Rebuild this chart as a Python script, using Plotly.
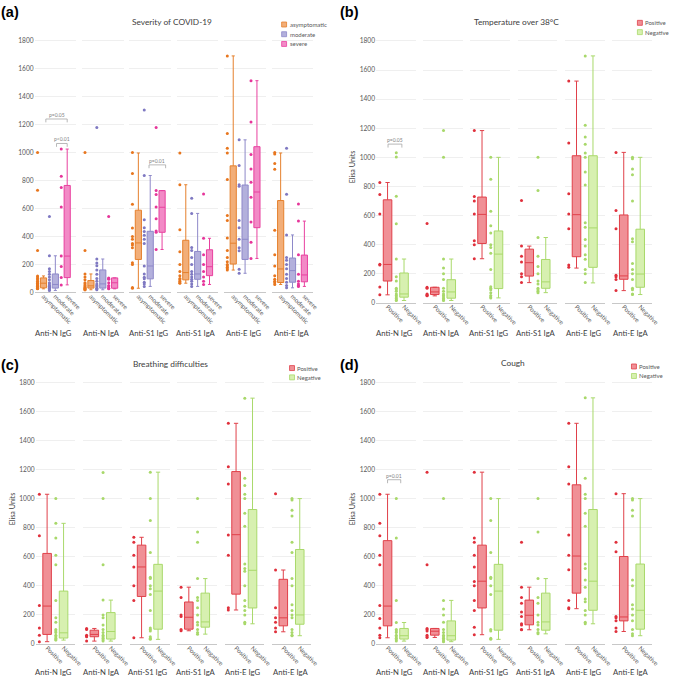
import plotly.graph_objects as go

W, H = 680, 682

antibodies = ["Anti-N IgG", "Anti-N IgA", "Anti-S1 IgG", "Anti-S1 IgA", "Anti-E IgG", "Anti-E IgA"]
severity_levels = ["asymptomatic", "moderate", "severe"]
symptom_levels = ["Positive", "Negative"]

# ---------------- (a) Severity of COVID-19 : [antibody][asymptomatic, moderate, severe]
sev_low = [[26, 14, 54], [19, 19, 26], [30, 43, 307], [66, 43, 57], [160, 137, 243], [57, 33, 43]]
sev_q1 = [[33, 31, 106], [31, 31, 30], [236, 97, 430], [90, 94, 120], [203, 236, 463], [71, 73, 76]]
sev_med = [[66, 57, 260], [47, 61, 69], [354, 189, 609], [142, 132, 184], [352, 380, 718], [168, 156, 125]]
sev_q3 = [[104, 132, 765], [85, 161, 104], [588, 437, 728], [373, 293, 305], [905, 768, 1042], [657, 246, 267]]
sev_high = [[118, 262, 1025], [132, 239, 104], [997, 836, 728], [770, 565, 387], [1691, 1091, 1514], [997, 411, 510]]
sev_points = [
    [[1000, 730, 300, 118, 110, 100, 90, 80, 70, 65, 60, 55, 50, 45, 40, 35, 30, 28, 26],
     [543, 262, 170, 150, 130, 110, 90, 70, 60, 50, 45, 40, 35, 30, 25, 20, 14],
     [1025, 830, 750, 610, 260, 185, 106, 54]],
    [[1000, 300, 132, 110, 90, 70, 60, 50, 40, 35, 30, 25, 20, 19],
     [1180, 239, 210, 190, 160, 130, 100, 80, 60, 50, 40, 30, 25, 19],
     [543, 104, 100, 95, 70, 50, 40, 30, 26]],
    [[1000, 850, 630, 460, 400, 380, 350, 340, 320, 213, 200, 35, 30],
     [1304, 836, 520, 463, 435, 409, 380, 350, 189, 132, 109, 97, 73, 61, 43],
     [1180, 728, 700, 610, 527, 440, 430, 307]],
    [[997, 770, 449, 290, 200, 150, 120, 100, 90, 80, 70, 66],
     [673, 565, 321, 300, 250, 200, 150, 130, 110, 94, 80, 60, 43],
     [704, 387, 270, 200, 150, 110, 80, 57]],
    [[1691, 1136, 1030, 997, 808, 550, 515, 390, 300, 250, 220, 200, 190, 180, 170, 160],
     [1091, 907, 770, 760, 515, 463, 380, 320, 298, 165, 137],
     [1514, 1219, 987, 883, 787, 680, 503, 359, 243]],
    [[1000, 990, 921, 881, 444, 269, 189, 120, 95, 80, 70, 57],
     [1030, 702, 411, 250, 230, 200, 170, 130, 100, 73, 50, 33],
     [633, 510, 270, 130, 80, 60, 50, 43]],
]

# ---------------- (b) Temperature over 38°C : [antibody][Positive, Negative]
temp_low = [[55, 16], [48, 16], [303, 34], [139, 70], [239, 137], [84, 57]]
temp_q1 = [[150, 39], [57, 32], [408, 98], [184, 100], [317, 244], [162, 107]]
temp_med = [[264, 61], [75, 75], [608, 335], [276, 144], [606, 515], [185, 198]]
temp_q3 = [[708, 205], [107, 159], [727, 494], [369, 298], [1011, 1011], [604, 506]]
temp_high = [[827, 301], [107, 301], [1184, 1000], [390, 449], [1524, 1697], [1034, 1000]]
temp_points = [
    [[827, 745, 610, 265, 260, 109, 55],
     [1032, 1002, 733, 544, 301, 180, 150, 100, 90, 80, 60, 50, 40, 30, 20, 16]],
    [[545, 107, 100, 60, 55, 50, 48],
     [1184, 1000, 301, 240, 200, 160, 100, 80, 60, 50, 40, 30, 20, 16]],
    [[1184, 730, 700, 610, 426, 400, 303],
     [1000, 850, 630, 530, 480, 400, 380, 340, 230, 110, 100, 90, 70, 50, 40, 34]],
    [[704, 390, 320, 280, 200, 180, 139],
     [1000, 772, 449, 320, 250, 200, 150, 130, 100, 90, 80, 70]],
    [[1524, 1098, 750, 610, 510, 260, 245],
     [1697, 1220, 1140, 1090, 1030, 1000, 900, 810, 550, 520, 435, 390, 330, 300, 230, 200, 140]],
    [[1034, 635, 510, 190, 180, 160, 84],
     [1000, 990, 920, 880, 700, 440, 420, 270, 230, 200, 160, 100, 90, 60, 57]],
]

# ---------------- (c) Breathing difficulties
breath_low = [[16, 27], [20, 20], [43, 32], [91, 68], [234, 139], [84, 57]]
breath_q1 = [[66, 41], [50, 34], [327, 102], [102, 116], [343, 248], [125, 136]]
breath_med = [[261, 77], [66, 86], [530, 364], [184, 152], [752, 507], [180, 200]]
breath_q3 = [[623, 364], [95, 216], [680, 548], [289, 350], [1186, 925], [445, 650]]
breath_high = [[1030, 830], [107, 302], [734, 1182], [391, 450], [1518, 1691], [509, 1000]]
breath_points = [
    [[1030, 745, 265, 110, 60, 16],
     [1000, 830, 730, 610, 545, 300, 180, 150, 100, 90, 80, 60, 50, 40, 30, 27]],
    [[107, 100, 60, 55, 50, 20],
     [1180, 1000, 545, 302, 200, 180, 130, 100, 80, 60, 50, 40, 30, 20]],
    [[734, 700, 610, 530, 400, 300, 43],
     [1182, 1000, 850, 630, 460, 450, 400, 380, 340, 230, 110, 100, 90, 50, 40, 32]],
    [[391, 320, 200, 190, 100, 91],
     [1000, 770, 700, 450, 320, 300, 250, 200, 150, 130, 100, 80, 68]],
    [[1518, 1220, 1100, 750, 610, 250, 234],
     [1691, 1140, 1090, 1030, 1000, 900, 810, 550, 520, 500, 400, 300, 260, 230, 200, 150, 139]],
    [[1034, 509, 250, 180, 150, 110, 84],
     [1000, 990, 920, 880, 700, 630, 450, 400, 270, 230, 200, 180, 100, 80, 60, 57]],
]

# ---------------- (d) Cough
cough_low = [[43, 20], [45, 16], [64, 32], [98, 70], [243, 139], [86, 57]]
cough_q1 = [[125, 34], [61, 27], [248, 95], [132, 95], [350, 232], [159, 102]]
cough_med = [[261, 57], [88, 57], [432, 364], [198, 152], [605, 432], [186, 232]]
cough_q3 = [[711, 107], [107, 159], [680, 548], [302, 350], [1095, 925], [602, 550]]
cough_high = [[1030, 148], [107, 300], [1182, 1000], [391, 450], [1518, 1693], [1034, 1000]]
cough_points = [
    [[1030, 830, 745, 610, 545, 265, 175, 110, 60, 43],
     [1000, 730, 300, 148, 100, 90, 80, 60, 50, 40, 30, 20]],
    [[1182, 545, 107, 100, 90, 60, 50, 45],
     [1000, 300, 240, 200, 150, 100, 80, 60, 50, 40, 30, 20, 16]],
    [[1182, 730, 700, 610, 530, 430, 400, 300, 230, 115, 64],
     [1000, 850, 630, 460, 450, 400, 340, 100, 90, 40, 32]],
    [[700, 391, 320, 280, 220, 190, 140, 130, 100, 98],
     [1000, 770, 450, 320, 280, 200, 150, 130, 100, 80, 70]],
    [[1518, 1220, 1100, 750, 610, 510, 300, 250, 243],
     [1693, 1140, 1030, 1000, 900, 810, 550, 520, 440, 390, 310, 290, 230, 200, 150, 139]],
    [[1034, 700, 635, 190, 180, 160, 110, 86],
     [1000, 990, 920, 880, 440, 400, 270, 240, 200, 160, 100, 70, 57]],
]

# significance brackets: (panel, antibody index, level from, level to, value, text)
brackets = [
    (0, 0, 0.2, 2.0, 1240, "p=0.05"),
    (0, 0, 1.1, 2.0, 1065, "p<0.01"),
    (0, 2, 0.9, 2.3, 912, "p=0.01"),
    (1, 0, 0.03, 0.87, 1091, "p=0.05"),
    (3, 0, 0.0, 0.8, 1130, "p=0.01"),
]

# ---------------- styling
sev_line = ["#E5802D", "#8E89C9", "#E8409F"]
sev_fill = ["#F2AE78", "#B3B0DC", "#F28AC6"]
sev_dot = ["#E8761E", "#7F79C2", "#E6359A"]
sym_line = ["#E0404A", "#A9D96B"]
sym_fill = ["#F09096", "#D7F0B0"]
sym_dot = ["#E0303C", "#A8D86A"]

FONT = "Lato"
GRAY = "#595959"


def px(x):
    return x / W


def py(y):
    return 1 - y / H


panels = [
    dict(title="Severity of COVID-19", letter="(a)", levels=severity_levels,
         low=sev_low, q1=sev_q1, med=sev_med, q3=sev_q3, high=sev_high, pts=sev_points,
         line=sev_line, fill=sev_fill, dot=sev_dot,
         cx0=56, dcx=48, hw=21, rng=[-0.75, 2.75], ptoff=-0.5, ytop=36.6, ybot=292,
         title_xy=(174, 19), letter_xy=(0, 0), leg_xy=(285, 21.7), leg_dy=9.8,
         lab_y=332.5, ytitle=None),
    dict(title="Temperature over 38°C", letter="(b)", levels=symptom_levels,
         low=temp_low, q1=temp_q1, med=temp_med, q3=temp_q3, high=temp_high, pts=temp_points,
         line=sym_line, fill=sym_fill, dot=sym_dot,
         cx0=400.5, dcx=47.8, hw=20, rng=[-0.7, 1.7], ptoff=-0.47, ytop=36.8, ybot=302.5,
         title_xy=(523, 19), letter_xy=(343, 0), leg_xy=(645, 20), leg_dy=9.4,
         lab_y=332.5, ytitle=(357, 165)),
    dict(title="Breathing difficulties", letter="(c)", levels=symptom_levels,
         low=breath_low, q1=breath_q1, med=breath_med, q3=breath_q3, high=breath_high, pts=breath_points,
         line=sym_line, fill=sym_fill, dot=sym_dot,
         cx0=56, dcx=47.8, hw=20, rng=[-0.7, 1.7], ptoff=-0.47, ytop=381.2, ybot=646.7,
         title_xy=(173, 364), letter_xy=(0, 356), leg_xy=(293, 368.3), leg_dy=9.4,
         lab_y=675, ytitle=(13, 510)),
    dict(title="Cough", letter="(d)", levels=symptom_levels,
         low=cough_low, q1=cough_q1, med=cough_med, q3=cough_q3, high=cough_high, pts=cough_points,
         line=sym_line, fill=sym_fill, dot=sym_dot,
         cx0=400.5, dcx=47.8, hw=20, rng=[-0.7, 1.7], ptoff=-0.47, ytop=381.2, ybot=646.7,
         title_xy=(519, 363), letter_xy=(343, 356), leg_xy=(639, 366.7), leg_dy=9.6,
         lab_y=675, ytitle=(357, 510)),
]

fig = go.Figure()
layout = dict(width=W, height=H, margin=dict(l=0, r=0, t=0, b=0),
              paper_bgcolor="white", plot_bgcolor="white", showlegend=False,
              font=dict(family=FONT, color=GRAY))
annotations = []
shapes = []

for p, P in enumerate(panels):
    yid = "y" if p == 0 else f"y{p + 1}"
    ylay = "yaxis" if p == 0 else f"yaxis{p + 1}"
    first_x = p * 6 + 1
    nl = len(P["levels"])
    for g in range(6):
        n = p * 6 + g + 1
        xid = "x" if n == 1 else f"x{n}"
        xlay = "xaxis" if n == 1 else f"xaxis{n}"
        c = P["cx0"] + P["dcx"] * g
        layout[xlay] = dict(domain=[px(c - P["hw"]), px(c + P["hw"])], range=P["rng"], anchor=yid,
                            tickmode="array", tickvals=list(range(nl)), ticktext=P["levels"],
                            tickangle=45, tickfont=dict(size=6.3, color=GRAY, family=FONT),
                            ticklabelstandoff=-3,
                            showline=True, linecolor="#C8C8C8", linewidth=1,
                            showgrid=False, zeroline=False, ticks="", fixedrange=True)
        for k in range(nl):
            fig.add_trace(go.Box(
                x=[k], q1=[P["q1"][g][k]], median=[P["med"][g][k]], q3=[P["q3"][g][k]],
                lowerfence=[P["low"][g][k]], upperfence=[P["high"][g][k]],
                width=0.52, whiskerwidth=0.5, boxpoints=False,
                line=dict(color=P["line"][k], width=1), fillcolor=P["fill"][k],
                name=P["levels"][k], xaxis=xid, yaxis=yid, showlegend=False))
            vals = P["pts"][g][k]
            fig.add_trace(go.Scatter(
                x=[k + P["ptoff"]] * len(vals), y=vals, mode="markers",
                marker=dict(size=3, color=P["dot"][k]), name=P["levels"][k],
                xaxis=xid, yaxis=yid, showlegend=False))
        annotations.append(dict(text=antibodies[g], x=px(c - 1.5), y=py(P["lab_y"]), xref="paper", yref="paper",
                                showarrow=False, xanchor="center", yanchor="middle",
                                font=dict(size=7.7, color="#404040", family=FONT)))
    layout[ylay] = dict(domain=[py(P["ybot"]), py(P["ytop"])], range=[0, 1810],
                        anchor="x" if first_x == 1 else f"x{first_x}",
                        tickmode="linear", tick0=0, dtick=200,
                        tickfont=dict(size=6.6, color=GRAY, family=FONT),
                        gridcolor="#EFEFEF", gridwidth=1, zeroline=False, showline=False,
                        ticks="", fixedrange=True)
    # titles and letters
    annotations.append(dict(text=P["title"], x=px(P["title_xy"][0]), y=py(P["title_xy"][1]),
                            xref="paper", yref="paper", showarrow=False, xanchor="center", yanchor="middle",
                            font=dict(size=8.3, color="#404040", family=FONT)))
    annotations.append(dict(text="<b>" + P["letter"] + "</b>", x=px(P["letter_xy"][0]), y=py(P["letter_xy"][1]),
                            xref="paper", yref="paper", showarrow=False, xanchor="left", yanchor="top",
                            borderpad=0, font=dict(size=14.5, color="black", family="Liberation Sans")))
    if P["ytitle"]:
        annotations.append(dict(text="Elisa Units", x=px(P["ytitle"][0]), y=py(P["ytitle"][1]),
                                xref="paper", yref="paper", showarrow=False, textangle=-90,
                                xanchor="center", yanchor="middle",
                                font=dict(size=7.2, color="#404040", family=FONT)))
    # manual legend
    lx, ly = P["leg_xy"]
    for k, lev in enumerate(P["levels"]):
        yy = ly + k * P["leg_dy"]
        shapes.append(dict(type="rect", xref="paper", yref="paper",
                           x0=px(lx), x1=px(lx + 5), y0=py(yy + 2.5), y1=py(yy - 2.5),
                           fillcolor=P["fill"][k], line=dict(color=P["line"][k], width=0.8)))
        annotations.append(dict(text=lev, x=px(lx + 7), y=py(yy), xref="paper", yref="paper",
                                showarrow=False, xanchor="left", yanchor="middle", borderpad=0,
                                font=dict(size=6, color=GRAY, family=FONT)))

for (p, g, a, b, v, txt) in brackets:
    n = p * 6 + g + 1
    xid = "x" if n == 1 else f"x{n}"
    yid = "y" if p == 0 else f"y{p + 1}"
    shapes.append(dict(type="path", xref=xid, yref=yid,
                       path=f"M {a},{v - 24} L {a},{v} L {b},{v} L {b},{v - 24}",
                       line=dict(color="#A6A6A6", width=0.8)))
    annotations.append(dict(text=txt, x=(a + b) / 2, y=v, xref=xid, yref=yid, showarrow=False,
                            xanchor="center", yanchor="bottom", yshift=-1,
                            font=dict(size=5, color="#7F7F7F", family=FONT)))

layout["annotations"] = annotations
layout["shapes"] = shapes
fig.update_layout(**layout)
fig.write_html("out.html", config={"displayModeBar": False},
               post_script="document.body.style.margin='0';document.body.style.overflow='hidden';")
